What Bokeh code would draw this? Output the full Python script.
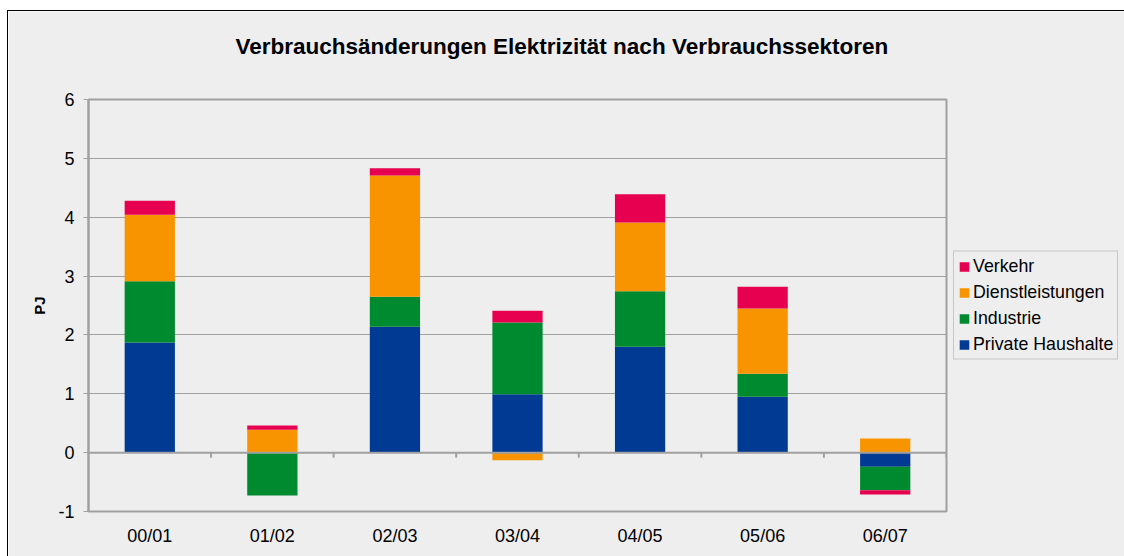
from bokeh.plotting import figure
from bokeh.models import FixedTicker, Legend, LegendItem, Range1d, Span
from bokeh.embed import file_html
from bokeh.resources import INLINE

categories = ["00/01", "01/02", "02/03", "03/04", "04/05", "05/06", "06/07"]
private_haushalte = [1.87, 0.00, 2.14, 0.99, 1.80, 0.95, -0.24]
industrie = [1.04, -0.73, 0.51, 1.22, 0.94, 0.39, -0.40]
dienstleistungen = [1.13, 0.39, 2.06, -0.13, 1.17, 1.11, 0.24]
verkehr = [0.24, 0.07, 0.12, 0.20, 0.48, 0.37, -0.07]
y_ticks = [-1, 0, 1, 2, 3, 4, 5, 6]
y_tick_labels = ["-1", "0", "1", "2", "3", "4", "5", "6"]

series = [
    ("Private Haushalte", private_haushalte, "#003A93"),
    ("Industrie", industrie, "#008A2F"),
    ("Dienstleistungen", dienstleistungen, "#F79400"),
    ("Verkehr", verkehr, "#E6004F"),
]

FONT = "Liberation Sans"
GRID = "#A0A0A0"
BG = "#EEEEEE"
BL, BR, BT, BB = 80, 178, 88, 45
FRAME_W, FRAME_H = 858, 412
Y_MIN, Y_MAX = -1, 6

p = figure(frame_width=FRAME_W, frame_height=FRAME_H, output_backend="svg", toolbar_location=None,
           x_range=Range1d(0, len(categories)), y_range=Range1d(Y_MIN, Y_MAX),
           min_border_left=BL, min_border_right=BR, min_border_top=BT, min_border_bottom=BB)
p.styles = {"margin-left": "7px", "margin-top": "10px",
            "border-left": "1px solid black", "border-top": "1px solid black"}
p.background_fill_color = BG
p.border_fill_color = BG
p.outline_line_color = GRID
p.outline_line_width = 2

p.title.text = "Verbrauchsänderungen Elektrizität nach Verbrauchssektoren\n"
p.title.align = "left"
p.title.text_font = FONT
p.title.text_font_size = "22.5px"
p.title.text_font_style = "bold"
p.title.text_color = "black"
p.title.standoff = 32
p.title.offset = 147

centers = [i + 0.5 for i in range(len(categories))]
pos_base = [0.0] * len(categories)
neg_base = [0.0] * len(categories)
renderers = {}
for name, vals, color in series:
    bottoms, tops = [], []
    for i, v in enumerate(vals):
        if v >= 0:
            b, t = pos_base[i], pos_base[i] + v
            pos_base[i] = t
        else:
            b, t = neg_base[i] + v, neg_base[i]
            neg_base[i] = b
        bottoms.append(b)
        tops.append(t)
    r = p.vbar(x=centers, bottom=bottoms, top=tops, width=0.41,
               fill_color=color, line_color=None)
    renderers[name] = r

# zero line with category boundary ticks
p.add_layout(Span(location=0, dimension="width", line_color=GRID, line_width=2))
tick_len = 5 * (Y_MAX - Y_MIN) / FRAME_H
bounds = list(range(1, len(categories) + 1))
p.segment(x0=bounds, x1=bounds, y0=[0] * len(bounds), y1=[-tick_len] * len(bounds),
          line_color=GRID, line_width=2)

# x axis (labels at bottom)
p.xaxis.ticker = FixedTicker(ticks=centers)
p.xaxis.major_label_overrides = {c: lab for c, lab in zip(centers, categories)}
p.xaxis.axis_line_color = None
p.xaxis.major_tick_line_color = None
p.xaxis.minor_tick_line_color = None
p.xaxis.major_label_text_font = FONT
p.xaxis.major_label_text_font_size = "18px"
p.xaxis.major_label_text_color = "black"
p.xaxis.major_label_standoff = 8

# y axis
p.yaxis.ticker = FixedTicker(ticks=y_ticks)
p.yaxis.major_label_overrides = {t: s for t, s in zip(y_ticks, y_tick_labels)}
p.yaxis.axis_line_color = GRID
p.yaxis.axis_line_width = 2
p.yaxis.major_tick_line_color = GRID
p.yaxis.major_tick_out = 5
p.yaxis.major_tick_in = 0
p.yaxis.minor_tick_line_color = None
p.yaxis.major_label_text_font = FONT
p.yaxis.major_label_text_font_size = "18px"
p.yaxis.major_label_text_color = "black"
p.yaxis.major_label_standoff = 9
p.yaxis.axis_label = "PJ"
p.yaxis.axis_label_text_font = FONT
p.yaxis.axis_label_text_font_size = "15px"
p.yaxis.axis_label_text_font_style = "bold"
p.yaxis.axis_label_text_color = "black"
p.yaxis.axis_label_standoff = 7

p.xgrid.grid_line_color = None
p.ygrid.ticker = FixedTicker(ticks=y_ticks)
p.ygrid.grid_line_color = GRID
p.ygrid.grid_line_width = 1

legend = Legend(items=[LegendItem(label=n, renderers=[renderers[n]]) for n in
                       ["Verkehr", "Dienstleistungen", "Industrie", "Private Haushalte"]],
                location="left", margin=7, padding=4, spacing=5,
                glyph_width=12, glyph_height=12, label_height=20, label_standoff=3,
                label_text_font=FONT, label_text_font_size="17.8px", label_text_color="black",
                border_line_color=GRID, border_line_width=1, background_fill_color=BG,
                background_fill_alpha=1)
p.add_layout(legend, "right")

open("out.html", "w").write(file_html(p, INLINE))
